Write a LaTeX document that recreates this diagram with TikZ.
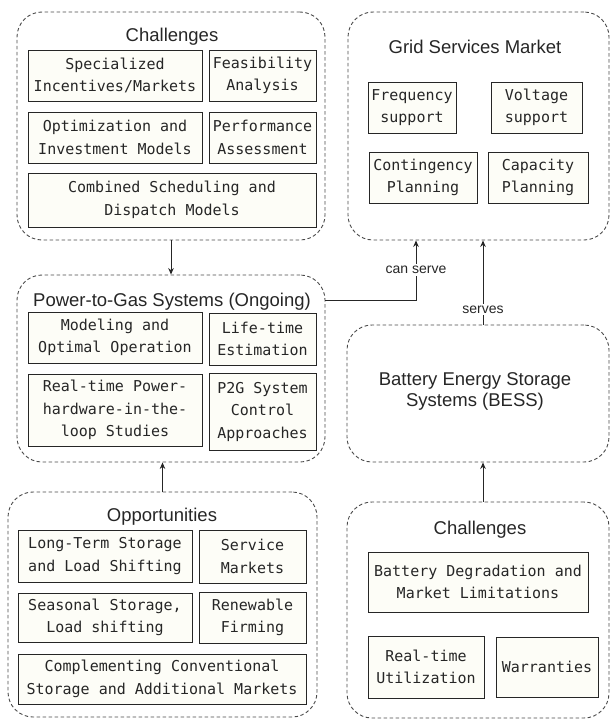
\documentclass[tikz,border=0pt]{standalone}
\usepackage{fontspec}
\setmainfont{Liberation Sans}
\setmonofont{DejaVu Sans Mono}
\usetikzlibrary{arrows.meta}

\definecolor{boxfill}{HTML}{FDFDF7}
\definecolor{dashgray}{HTML}{4A4A4A}

\begin{document}
\begin{tikzpicture}[x=1pt,y=-1pt,
    group/.style={draw=dashgray,line width=0.9pt,dash pattern=on 3.5pt off 2.5pt,rounded corners=25pt,
        minimum width=#1,inner sep=0pt},
    item/.style={draw=black!85,line width=0.9pt,fill=boxfill,align=center,inner sep=0pt,
        font=\ttfamily\fontsize{15}{22.5}\selectfont,text=black!85},
    heading/.style={font=\fontsize{18.5}{21}\selectfont,text=black!85,align=center},
    link/.style={-{Stealth[length=6.5pt,width=5.5pt]},line width=1pt,black!85},
    tag/.style={fill=white,font=\fontsize{14}{16}\selectfont,inner sep=2pt,text=black!85}]
\useasboundingbox (0,0) rectangle (612,720);

% the dashed groups
\path node[group=308pt,minimum height=228pt] (chal) at (171,126) {}
      node[group=261pt,minimum height=228pt] (grid) at (478.5,126) {}
      node[group=308pt,minimum height=187pt] (p2g) at (171,368.5) {}
      node[group=309pt,minimum height=225pt] (opp) at (162.5,604.5) {}
      node[group=262pt,minimum height=137pt] (bess) at (478,393.5) {}
      node[group=262pt,minimum height=216pt] (bch) at (478,610) {};

% headings
\node[heading] (chaltitle) at (172,37) {Challenges};
\node[heading] (gridtitle) at (475,47) {Grid Services Market};
\node[heading] (p2gtitle) at (172,302) {Power-to-Gas Systems (Ongoing)};
\node[heading] (opptitle) at (162,517) {Opportunities};
\node[heading] (besstitle) at (475,391) {Battery Energy Storage\\Systems (BESS)};
\node[heading] (bchtitle) at (480,530) {Challenges};

% challenges of power-to-gas
\node[item,minimum width=174pt,minimum height=51pt] (spec) at (115,75.5) {Specialized\\Incentives/Markets};
\node[item,minimum width=107pt,minimum height=51pt] (feas) at (262.5,75.5) {Feasibility\\Analysis};
\node[item,minimum width=174pt,minimum height=51pt] (optim) at (115,137.5) {Optimization and\\Investment Models};
\node[item,minimum width=107pt,minimum height=51pt] (perf) at (262.5,137.5) {Performance\\Assessment};
\node[item,minimum width=288pt,minimum height=54pt] (comb) at (172,200) {Combined Scheduling and\\Dispatch Models};

% grid services
\node[item,minimum width=88pt,minimum height=51pt] (freq) at (412,107.5) {Frequency\\support};
\node[item,minimum width=91pt,minimum height=51pt] (volt) at (536.5,107.5) {Voltage\\support};
\node[item,minimum width=108pt,minimum height=51pt] (cont) at (423,177.5) {Contingency\\Planning};
\node[item,minimum width=100pt,minimum height=51pt] (capa) at (538,177.5) {Capacity\\Planning};

% power-to-gas systems
\node[item,minimum width=174pt,minimum height=51pt] (model) at (115,337.5) {Modeling and\\Optimal Operation};
\node[item,minimum width=107pt,minimum height=52pt] (life) at (262.5,339) {Life-time\\Estimation};
\node[item,minimum width=174pt,minimum height=72pt] (rtph) at (115,410) {Real-time Power-\\hardware-in-the-\\loop Studies};
\node[item,minimum width=107pt,minimum height=77pt] (ctrl) at (262.5,411.5) {P2G System\\Control\\Approaches};

% opportunities
\node[item,minimum width=174pt,minimum height=52pt] (lts) at (105,556) {Long-Term Storage\\and Load Shifting};
\node[item,minimum width=107pt,minimum height=53pt] (serv) at (252.5,556.5) {Service\\Markets};
\node[item,minimum width=174pt,minimum height=49pt] (seas) at (105,617.5) {Seasonal Storage,\\Load shifting};
\node[item,minimum width=107pt,minimum height=51pt] (renew) at (252.5,617.5) {Renewable\\Firming};
\node[item,minimum width=288pt,minimum height=50pt] (compl) at (162,679) {Complementing Conventional\\Storage and Additional Markets};

% challenges of BESS
\node[item,minimum width=220pt,minimum height=60pt] (batt) at (478,582) {Battery Degradation and\\Market Limitations};
\node[item,minimum width=116pt,minimum height=62pt] (rtu) at (426,667) {Real-time\\Utilization};
\node[item,minimum width=102pt,minimum height=60pt] (warr) at (547,667) {Warranties};

% connectors
\draw[link] (chal.south) -- (p2g.north);
\draw[link] (opp.north) -- (opp.north |- p2g.south);
\draw[link] ([xshift=5pt]bch.north) -- ([xshift=5pt]bess.south);
\draw[link] ([xshift=5pt]bess.north) -- node[tag,pos=0.18] {serves} ([xshift=5pt]bess.north |- grid.south);
\draw[link] (p2g.east |- 0,300) -| node[tag,pos=0.75] {can serve} ([xshift=-62.5pt]grid.south);

\end{tikzpicture}
\end{document}
